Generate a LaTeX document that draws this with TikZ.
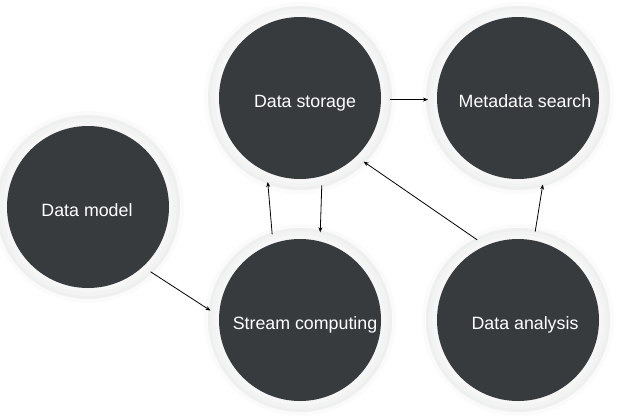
\documentclass[tikz,border=0pt]{standalone}
\usepackage{fontspec}
\setmainfont{Liberation Sans}
\usetikzlibrary{arrows.meta}
\definecolor{disc}{RGB}{55,59,62}
\definecolor{haloa}{RGB}{251,251,251}
\definecolor{halob}{RGB}{238,239,239}
\definecolor{haloc}{RGB}{242,243,243}
\definecolor{halod}{RGB}{246,246,246}
\begin{document}
\begin{tikzpicture}[x=1pt,y=-1pt,
  bubble/.style={circle,fill=disc,minimum size=162pt,inner sep=0pt,outer sep=9pt},
  lbl/.style={text=white,anchor=base,inner sep=0pt,font=\fontsize{17.8}{20}\selectfont},
  link/.style={draw=black,line width=0.8pt,-{Stealth[length=5pt,width=4pt]}}]
\useasboundingbox[fill=white] (0,0) rectangle (628,418);
% halos
\foreach \x/\y in {300/98,518/98,88/207,300/320,518/320}{
  \fill[haloa] (\x,\y) circle (96);
  \fill[halob] (\x,\y) circle (92);
  \fill[haloc] (\x,\y) circle (89);
  \fill[halod] (\x,\y) circle (85);
}
\node[bubble] (ds) at (300,98) {};
\node[bubble] (ms) at (518,98) {};
\node[bubble] (dm) at (88,207) {};
\node[bubble] (sc) at (300,320) {};
\node[bubble] (da) at (518,320) {};
\node[lbl] (dst) at (305,107) {Data storage};
\node[lbl] (mst) at (525,107) {Metadata search};
\node[lbl] (dmt) at (87,216) {Data model};
\node[lbl] (sct) at (305,329) {Stream computing};
\node[lbl] (dat) at (525,329) {Data analysis};
\draw[link] (ds.-1) -- (ms.181);
\draw[link] (dm.-46) -- (sc.174);
\draw[link] (da.79) -- (ms.-74);
\draw[link] (sc.108) -- (ds.-111);
\draw[link] (ds.-76) -- (sc.77);
\draw[link] (da.117) -- (ds.-45);
\end{tikzpicture}
\end{document}
